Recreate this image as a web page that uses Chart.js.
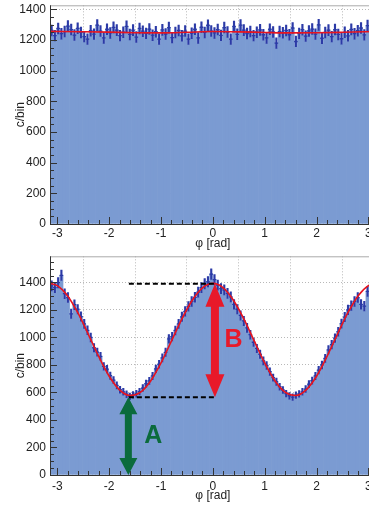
<!DOCTYPE html>
<html>
<head>
<meta charset="utf-8">
<script src="https://cdn.jsdelivr.net/npm/chart.js@4/dist/chart.umd.min.js"></script>
<style>
  html, body { margin: 0; padding: 0; background: #fff; overflow: hidden; width: 369px; height: 509px; }
  canvas { position: absolute; left: 0; }
  #top { top: 0; }
  #bottom { top: 251px; }
</style>
</head>
<body>
<canvas id="top" width="381" height="251"></canvas>
<canvas id="bottom" width="381" height="258"></canvas>
<script>
// binning: 100 bins over [-pi, pi]
const NBINS = 100;
const binWidth = 2 * Math.PI / NBINS;
const binCenters = Array.from({ length: NBINS }, (_, i) => -Math.PI + (i + 0.5) * binWidth);

const yTickValues = [0, 200, 400, 600, 800, 1000, 1200, 1400];
const xTickValues = [-3, -2, -1, 0, 1, 2, 3];

// top panel: flat distribution
const countsFlat = [
  1262, 1228, 1275, 1241, 1255, 1290, 1268, 1232, 1276, 1249,
  1222, 1205, 1260, 1238, 1297, 1258, 1213, 1270, 1246, 1282,
  1264, 1228, 1251, 1289, 1236, 1264, 1219, 1275, 1257, 1243,
  1271, 1231, 1254, 1206, 1266, 1239, 1280, 1215, 1248, 1262,
  1227, 1258, 1205, 1244, 1270, 1213, 1283, 1249, 1296, 1258,
  1246, 1268, 1230, 1281, 1252, 1205, 1288, 1237, 1297, 1264,
  1242, 1255, 1228, 1251, 1266, 1234, 1213, 1270, 1252, 1180,
  1255, 1247, 1262, 1234, 1278, 1190, 1243, 1267, 1225, 1259,
  1271, 1238, 1299, 1211, 1249, 1264, 1222, 1268, 1236, 1208,
  1250, 1227, 1269, 1241, 1260, 1278, 1233, 1294, 1252, 1268
];
const fitFlatX = [-3.1416, -2.5, -2.0, -1.5, -1.0, -0.5, 0.0, 0.5, 1.0, 1.5, 2.0, 2.5, 3.1416];
const fitFlatY = [1256, 1254, 1251, 1247, 1246, 1250, 1255, 1253, 1249, 1246, 1247, 1250, 1255];

// bottom panel: modulated distribution
const countsMod = [
  1375, 1362, 1398, 1452, 1318, 1290, 1172, 1238, 1205, 1152,
  1098, 1052, 1000,  925,  893,  862,  790,  770,  722,  690,
   652,  620,  605,  587,  572,  583,  591,  606,  632,  665,
   684,  720,  772,  805,  851,  892,  990, 1006, 1051, 1098,
  1150, 1190, 1226, 1262, 1292, 1330, 1362, 1390, 1405, 1460,
  1420, 1380, 1355, 1345, 1320, 1295, 1240, 1205, 1160, 1120,
  1070, 1020,  965,  920,  878,  830,  796,  752,  708,  678,
   642,  618,  592,  576,  566,  580,  590,  605,  625,  660,
   686,  720,  762,  800,  848,  910,  948,  995, 1042, 1100,
  1148, 1200, 1232, 1262, 1290, 1240, 1228, 1335, 1400, 1420
];
const fitModX = [-3.1416, -3.0, -2.8, -2.6, -2.4, -2.2, -2.0, -1.8, -1.6, -1.4, -1.2, -1.0, -0.8, -0.6, -0.4, -0.2, 0.0,
                 0.2, 0.4, 0.6, 0.8, 1.0, 1.2, 1.4, 1.6, 1.8, 2.0, 2.2, 2.4, 2.6, 2.8, 3.0, 3.1416];
const fitModY = [1393, 1377, 1302, 1176, 1021, 860, 718, 619, 578, 601, 684, 815, 973, 1133, 1269, 1361, 1393,
                 1361, 1269, 1133, 973, 815, 684, 601, 578, 619, 718, 860, 1021, 1176, 1302, 1377, 1393];

// annotation: plateau/minimum levels and arrows (data coordinates)
const levelHigh = 1390;
const levelLow = 565;
const dashFrom = -1.62, dashTo = 0.02;
const arrowAx = -1.63, arrowBx = 0.04;

const FONT = "'Liberation Sans', Arial, sans-serif";

const rootAxes = {
  id: 'rootAxes',
  afterDatasetsDraw(chart) {
    const { ctx, chartArea: a, scales: { x, y } } = chart;
    ctx.save();
    ctx.lineWidth = 1;
    ctx.strokeStyle = '#333';
    ctx.beginPath();
    for (let v = 0; v <= y.max; v += 50) {
      const py = Math.round(y.getPixelForValue(v)) + 0.5;
      const len = v % 200 === 0 ? 7 : 4;
      ctx.moveTo(a.left, py); ctx.lineTo(a.left + len, py);
    }
    for (let k = -15; k <= 15; k++) {
      const v = k * 0.2;
      if (v < x.min || v > x.max) continue;
      const px = Math.round(x.getPixelForValue(v)) + 0.5;
      const len = k % 5 === 0 ? 7 : 4;
      ctx.moveTo(px, a.bottom); ctx.lineTo(px, a.bottom - len);
    }
    ctx.stroke();
    ctx.strokeStyle = '#aaa';
    ctx.beginPath();
    ctx.moveTo(a.left, a.top + 0.5); ctx.lineTo(a.right, a.top + 0.5);
    ctx.stroke();
    ctx.strokeStyle = '#333';
    ctx.beginPath();
    ctx.moveTo(a.left + 0.5, a.top); ctx.lineTo(a.left + 0.5, a.bottom);
    ctx.moveTo(a.left, a.bottom + 0.5); ctx.lineTo(a.right, a.bottom + 0.5);
    ctx.stroke();
    ctx.restore();
  }
};

function drawArrow(ctx, px, yTop, yBot, shaftW, headW, headL, color) {
  ctx.fillStyle = color;
  ctx.beginPath();
  ctx.moveTo(px, yTop);
  ctx.lineTo(px + headW / 2, yTop + headL);
  ctx.lineTo(px + shaftW / 2, yTop + headL);
  ctx.lineTo(px + shaftW / 2, yBot - headL);
  ctx.lineTo(px + headW / 2, yBot - headL);
  ctx.lineTo(px, yBot);
  ctx.lineTo(px - headW / 2, yBot - headL);
  ctx.lineTo(px - shaftW / 2, yBot - headL);
  ctx.lineTo(px - shaftW / 2, yTop + headL);
  ctx.lineTo(px - headW / 2, yTop + headL);
  ctx.closePath();
  ctx.fill();
}

const marks = {
  id: 'marks',
  afterDatasetsDraw(chart, args, opts) {
    if (!opts.enabled) return;
    const { ctx, scales: { x, y } } = chart;
    ctx.save();
    ctx.strokeStyle = '#000';
    ctx.lineWidth = 2;
    ctx.setLineDash([5, 3]);
    ctx.beginPath();
    const yh = y.getPixelForValue(levelHigh), yl = y.getPixelForValue(levelLow);
    ctx.moveTo(x.getPixelForValue(dashFrom), yh); ctx.lineTo(x.getPixelForValue(dashTo), yh);
    ctx.moveTo(x.getPixelForValue(dashFrom), yl); ctx.lineTo(x.getPixelForValue(dashTo), yl);
    ctx.stroke();
    ctx.setLineDash([]);
    drawArrow(ctx, x.getPixelForValue(arrowAx), yl, y.getPixelForValue(0), 7, 18, 17, '#0b6b3c');
    drawArrow(ctx, x.getPixelForValue(arrowBx), yh, yl, 8, 19, 23, '#e8192a');
    ctx.font = 'bold 25px ' + FONT;
    ctx.textAlign = 'center';
    ctx.textBaseline = 'middle';
    ctx.fillStyle = '#0b6b3c';
    ctx.fillText('A', x.getPixelForValue(-1.15), y.getPixelForValue(282));
    ctx.fillStyle = '#e8192a';
    ctx.fillText('B', x.getPixelForValue(0.40), y.getPixelForValue(982));
    ctx.restore();
  }
};

function makePanel(id, counts, fitX, fitY, yMax, opt) {
  const hist = binCenters.map((c, i) => ({ x: c, y: counts[i] }));
  const errs = binCenters.map((c, i) => ({ x: c, y: [counts[i] - Math.sqrt(counts[i]), counts[i] + Math.sqrt(counts[i])] }));
  const fit = fitX.map((v, i) => ({ x: v, y: fitY[i] }));
  return new Chart(document.getElementById(id), {
    type: 'bar',
    data: {
      datasets: [
        { type: 'line', data: fit, borderColor: '#e8141e', borderWidth: 1.6, pointRadius: 0,
          cubicInterpolationMode: 'monotone', order: 0 },
        { type: 'line', data: hist, showLine: false, pointStyle: 'line', pointRadius: 1.8,
          pointBorderWidth: 1.3, pointBorderColor: '#2b3aa6', order: 1 },
        { data: errs, backgroundColor: '#2b3aa6', barThickness: 1.4, grouped: false, order: 2 },
        { data: errs, backgroundColor: 'rgba(196,202,238,0.55)', barPercentage: 0.8, categoryPercentage: 1,
          grouped: false, order: 3 },
        { data: hist, backgroundColor: '#7b9bd2', borderWidth: 0, barPercentage: 1, categoryPercentage: 1,
          grouped: false, order: 4 }
      ]
    },
    options: {
      responsive: false,
      animation: false,
      layout: { padding: { top: opt.padTop, right: 2, bottom: 0, left: 0 } },
      plugins: { legend: { display: false }, tooltip: { enabled: false }, marks: { enabled: opt.marks } },
      scales: {
        x: {
          type: 'linear', min: -Math.PI, max: Math.PI, offset: false,
          grid: { color: '#b8b8b8', lineWidth: 1, drawTicks: false },
          border: { display: false, dash: [1, 2] },
          afterBuildTicks: s => { s.ticks = xTickValues.map(v => ({ value: v })); },
          ticks: { autoSkip: false, maxRotation: 0, padding: opt.xPad, callback: v => String(v),
                   color: '#222', font: { family: FONT, size: 12 } },
          title: { display: true, text: 'φ [rad]', color: '#222', font: { family: FONT, size: 12 },
                   padding: { top: 0, bottom: opt.titlePad } },
          afterFit: s => { s.height = opt.xHeight; s.paddingLeft = 0; s.paddingRight = 0; }
        },
        y: {
          min: 0, max: yMax,
          grid: { color: '#b8b8b8', lineWidth: 1, drawTicks: false },
          border: { display: false, dash: [1, 2] },
          afterBuildTicks: s => { s.ticks = yTickValues.map(v => ({ value: v })); },
          ticks: { padding: 4, color: '#222', callback: v => String(v),
                   font: { family: FONT, size: 12 } },
          title: { display: true, text: 'c/bin', color: '#222', font: { family: FONT, size: 12 },
                   padding: { top: 13, bottom: 0 } },
          afterFit: s => { s.width = 50; s.paddingTop = 0; s.paddingBottom = 0; }
        }
      }
    },
    plugins: [rootAxes, marks]
  });
}

makePanel('top', countsFlat, fitFlatX, fitFlatY, 1426,
  { padTop: 3, xHeight: 27, xPad: 2, titlePad: 0, marks: false });
makePanel('bottom', countsMod, fitModX, fitModY, 1590,
  { padTop: 4, xHeight: 34, xPad: 4, titlePad: 6, marks: true });
</script>
</body>
</html>
